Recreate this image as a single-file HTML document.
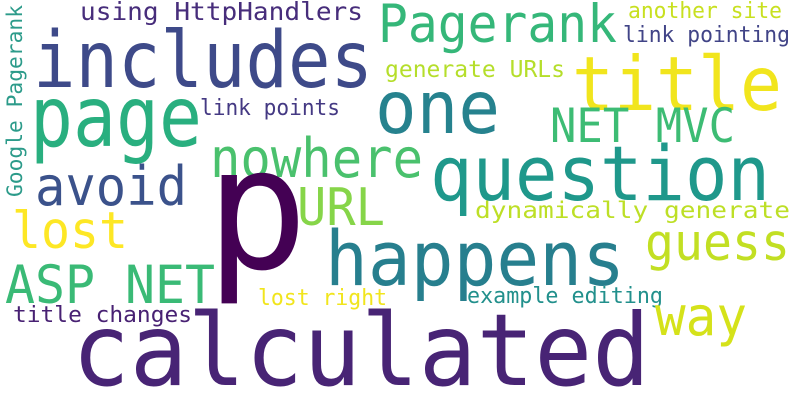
<!DOCTYPE html>
<html>
<head>
<meta charset="utf-8">
<style>
html,body{margin:0;padding:0;background:#fff;}
svg{display:block;}
text{font-family:"DejaVu Sans Mono","Liberation Mono",monospace;}
</style>
</head>
<body>
<svg id="cloud" width="800" height="400" viewBox="0 0 800 400" xmlns="http://www.w3.org/2000/svg">
<rect width="800" height="400" fill="#ffffff"/>
</svg>
<script>
const words = ["using HttpHandlers","includes","Pagerank","another site","link pointing","generate URLs","title","one","NET MVC","question","link points","Google Pagerank","nowhere","avoid","p","URL","dynamically generate","lost","guess","happens","ASP NET","lost right","example editing","title changes","way","calculated","page"];
const weights = [25,78,53,22,22,23,75,73,47,76,22,21,54,54,170,52,23,51,51,76,53,22,22,22,54,100,84];
const colors = ["#472d7b","#3e4a89","#35b779","#c8e020","#414487","#b5de2b","#f1e51d","#26828e","#3dbc74","#1f988b","#443983","#2c9b8a","#4ac16d","#3b528b","#440154","#86d549","#bddf26","#fde725","#c2df23","#277f8e","#3aba76","#f1e51d","#22908c","#482173","#d5e21a","#482475","#29af7f"];
// layout: [x, baseline, width(0 = natural), rotated]
const layoutX = [80,33,378,628,623,385,572,375,550,430,200,22,210,35,257,297,475,12,645,325,5,258,467,13,655,72,30];
const layoutY = [20,87,42,18,42,77,110,133,142,200,115,197,177,205,268,225,218,248,260,285,303,305,303,322,335,385,146];
const layoutW = [283,340,239,154,167,180,210,125,185,340,140,192,213,152,0,88,315,116,145,300,210,129,196,179,92,578,172];
const svg = document.getElementById('cloud');
const NS = 'http://www.w3.org/2000/svg';
for (let i = 0; i < words.length; i++) {
  const t = document.createElementNS(NS, 'text');
  t.textContent = words[i];
  t.setAttribute('font-size', weights[i]);
  t.setAttribute('fill', colors[i]);
  if (words[i] === 'Google Pagerank') {
    t.setAttribute('x', 0);
    t.setAttribute('y', 0);
    t.setAttribute('transform', 'translate(' + layoutX[i] + ',' + layoutY[i] + ') rotate(-90)');
  } else {
    t.setAttribute('x', layoutX[i]);
    t.setAttribute('y', layoutY[i]);
  }
  if (layoutW[i] > 0) {
    t.setAttribute('textLength', layoutW[i]);
    t.setAttribute('lengthAdjust', 'spacingAndGlyphs');
  } else {
    t.setAttribute('text-anchor', 'middle');
  }
  
  
  svg.appendChild(t);
}
</script>
</body>
</html>
